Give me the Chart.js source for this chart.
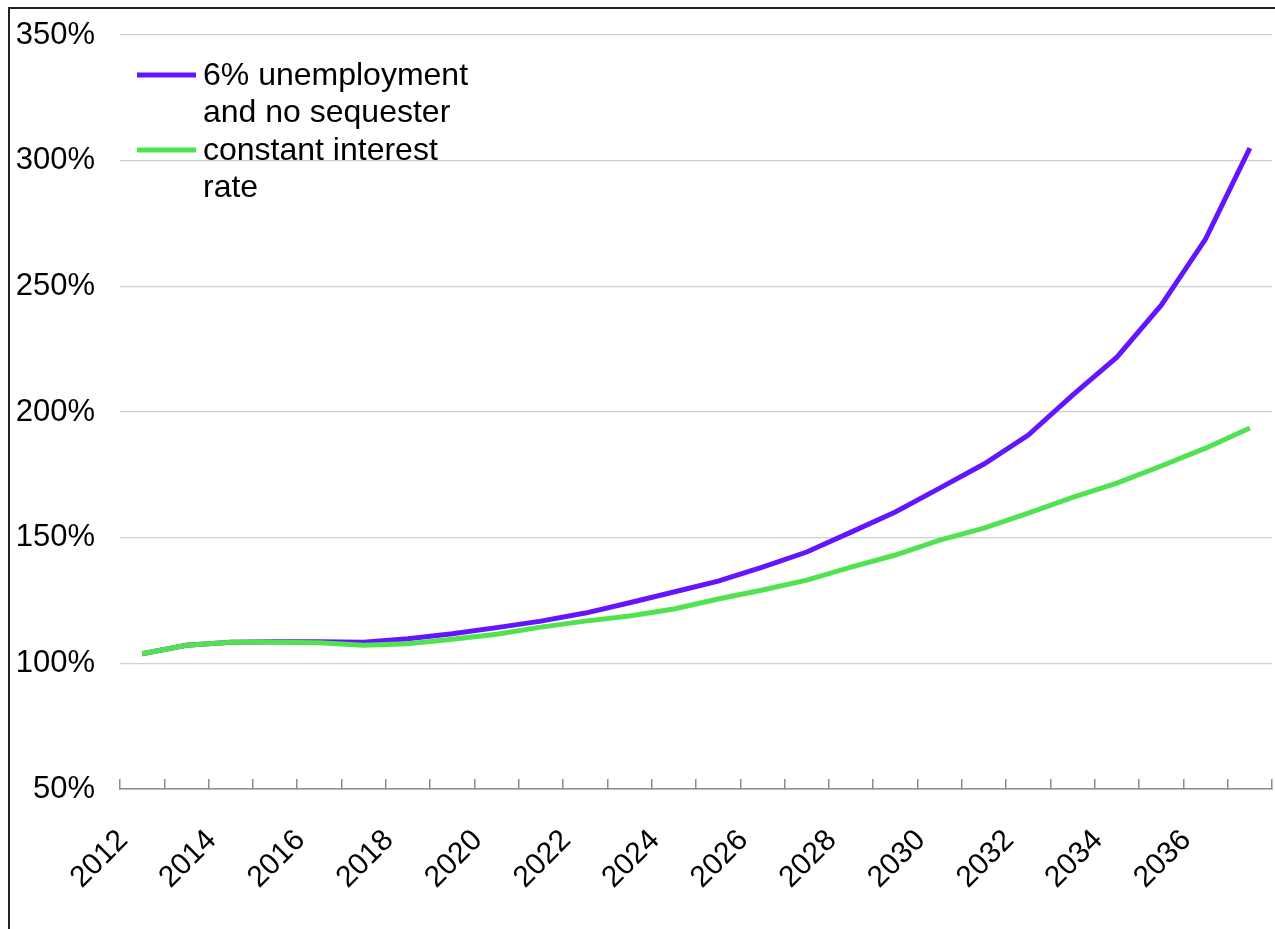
<!DOCTYPE html>
<html>
<head>
<meta charset="utf-8">
<script src="https://cdn.jsdelivr.net/npm/chart.js@4/dist/chart.umd.min.js"></script>
<style>
  html, body { margin: 0; padding: 0; background: #fff; overflow: hidden; }
  #wrap { position: relative; width: 1275px; height: 929px; }
  #frame { position: absolute; left: 8px; top: 7px; width: 1400px; height: 1000px;
           border-left: 2px solid #222; border-top: 2px solid #222; pointer-events: none; }
  canvas { position: absolute; left: 0; top: 0; }
</style>
</head>
<body>
<div id="wrap">
  <canvas id="c" width="1275" height="929"></canvas>
  <div id="frame"></div>
</div>
<script>
const years = ['2012','2013','2014','2015','2016','2017','2018','2019','2020','2021','2022','2023','2024',
               '2025','2026','2027','2028','2029','2030','2031','2032','2033','2034','2035','2036','2037'];
const unemploymentNoSequester = [103.8, 107.2, 108.4, 108.6, 108.6, 108.4, 109.8, 111.8, 114.2, 116.8, 120.0, 124.1, 128.4,
                                 132.7, 138.3, 144.3, 152.2, 160.2, 169.7, 179.3, 190.8, 206.7, 221.8, 242.5, 268.8, 305.0];
const constantInterestRate = [103.8, 107.2, 108.4, 108.4, 108.2, 107.2, 107.8, 109.6, 111.6, 114.4, 116.8, 118.8, 121.6,
                              125.6, 129.2, 133.1, 138.3, 143.1, 149.0, 153.8, 159.8, 166.0, 171.7, 178.5, 185.6, 193.6];
const seriesLabels = [['6% unemployment', 'and no sequester'], ['constant interest', 'rate']];
const yTicks = [50, 100, 150, 200, 250, 300, 350];

const FONT = '"Liberation Sans", Arial, sans-serif';
const PURPLE = '#6414FF';
const GREEN = '#50E250';

const legendPlugin = {
  id: 'insideLegend',
  afterDatasetsDraw(chart) {
    const ctx = chart.ctx;
    const area = chart.chartArea;
    const x0 = area.left + 17;
    const swatchW = 59;
    const lineH = 37.5;
    let y = area.top + 40;
    ctx.save();
    ctx.font = '32px ' + FONT;
    ctx.textBaseline = 'middle';
    ctx.textAlign = 'left';
    chart.data.datasets.forEach((ds) => {
      ctx.strokeStyle = ds.borderColor;
      ctx.lineWidth = ds.borderWidth;
      ctx.beginPath();
      ctx.moveTo(x0, y);
      ctx.lineTo(x0 + swatchW, y);
      ctx.stroke();
      ctx.fillStyle = '#000';
      ds.label.forEach((line, k) => {
        ctx.fillText(line, x0 + swatchW + 7, y + 1 + k * lineH);
      });
      y += ds.label.length * lineH;
    });
    ctx.restore();
  }
};

new Chart(document.getElementById('c'), {
  type: 'line',
  data: {
    labels: years,
    datasets: [
      { label: seriesLabels[0], data: unemploymentNoSequester, borderColor: PURPLE, backgroundColor: PURPLE,
        borderWidth: 5, pointRadius: 0, tension: 0, order: 1 },
      { label: seriesLabels[1], data: constantInterestRate, borderColor: GREEN, backgroundColor: GREEN,
        borderWidth: 5, pointRadius: 0, tension: 0, order: 0 }
    ]
  },
  options: {
    responsive: false,
    animation: false,
    devicePixelRatio: 1,
    layout: { padding: { top: 35, right: 3, left: 0, bottom: 0 } },
    plugins: { legend: { display: false }, tooltip: { enabled: false } },
    scales: {
      x: {
        offset: true,
        grid: { display: true, drawOnChartArea: false, drawTicks: true, tickLength: -10, color: '#8c8c8c', lineWidth: 1.5, offset: true },
        border: { display: true, color: '#8c8c8c', width: 1.5 },
        ticks: {
          autoSkip: false, minRotation: 45, maxRotation: 45, padding: 44, labelOffset: -19, color: '#000',
          font: { family: FONT, size: 30 },
          callback: function(v, i) { return i % 2 === 0 ? years[i] : ''; }
        },
        afterFit: (s) => { s.height = 140; s.paddingLeft = 0; s.paddingRight = 0; }
      },
      y: {
        min: 50, max: 350,
        afterBuildTicks: (s) => { s.ticks = yTicks.map(v => ({ value: v })); },
        grid: { color: '#d0d0d0', lineWidth: 1.2, drawTicks: false },
        border: { display: false },
        ticks: { padding: 25, color: '#000', font: { family: FONT, size: 31 },
                 callback: (v) => v + '%' },
        afterFit: (s) => { s.width = 120; s.paddingTop = 0; s.paddingBottom = 0; }
      }
    }
  },
  plugins: [legendPlugin]
});
</script>
</body>
</html>
